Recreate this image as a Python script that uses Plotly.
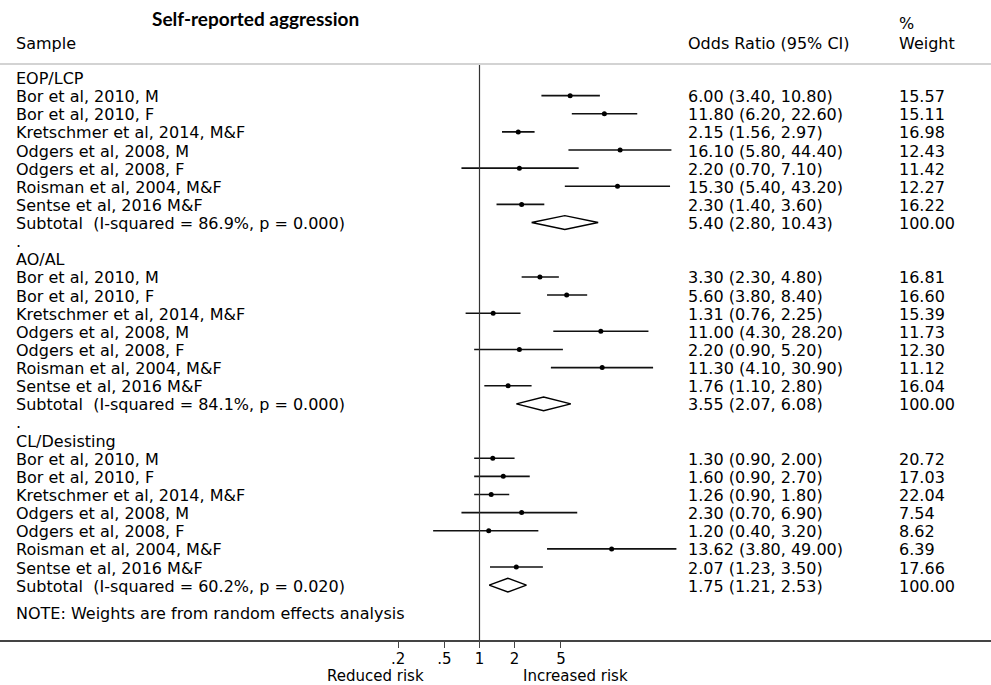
import math
import plotly.graph_objects as go

# ---- data -------------------------------------------------------------
title = "Self-reported aggression"
groups = ["EOP/LCP", "AO/AL", "CL/Desisting"]
studies = [
    "Bor et al, 2010, M",
    "Bor et al, 2010, F",
    "Kretschmer et al, 2014, M&F",
    "Odgers et al, 2008, M",
    "Odgers et al, 2008, F",
    "Roisman et al, 2004, M&F",
    "Sentse et al, 2016 M&F",
]

eop_or = [6.00, 11.80, 2.15, 16.10, 2.20, 15.30, 2.30]
eop_lo = [3.40, 6.20, 1.56, 5.80, 0.70, 5.40, 1.40]
eop_hi = [10.80, 22.60, 2.97, 44.40, 7.10, 43.20, 3.60]
eop_w = [15.57, 15.11, 16.98, 12.43, 11.42, 12.27, 16.22]

ao_or = [3.30, 5.60, 1.31, 11.00, 2.20, 11.30, 1.76]
ao_lo = [2.30, 3.80, 0.76, 4.30, 0.90, 4.10, 1.10]
ao_hi = [4.80, 8.40, 2.25, 28.20, 5.20, 30.90, 2.80]
ao_w = [16.81, 16.60, 15.39, 11.73, 12.30, 11.12, 16.04]

cl_or = [1.30, 1.60, 1.26, 2.30, 1.20, 13.62, 2.07]
cl_lo = [0.90, 0.90, 0.90, 0.70, 0.40, 3.80, 1.23]
cl_hi = [2.00, 2.70, 1.80, 6.90, 3.20, 49.00, 3.50]
cl_w = [20.72, 17.03, 22.04, 7.54, 8.62, 6.39, 17.66]

# pooled estimates: OR, lower, upper, I-squared (%), p
sub_or = [5.40, 3.55, 1.75]
sub_lo = [2.80, 2.07, 1.21]
sub_hi = [10.43, 6.08, 2.53]
sub_i2 = [86.9, 84.1, 60.2]
sub_p = [0.000, 0.000, 0.020]

tick_vals = [0.2, 0.5, 1, 2, 5]
tick_text = [".2", ".5", "1", "2", "5"]
note = "NOTE: Weights are from random effects analysis"

group_or = [eop_or, ao_or, cl_or]
group_lo = [eop_lo, ao_lo, cl_lo]
group_hi = [eop_hi, ao_hi, cl_hi]
group_w = [eop_w, ao_w, cl_w]

# ---- layout constants -------------------------------------------------
W, H = 991, 685
FONT = "DejaVu Sans"
FS = 16
FS_AXIS = 15
X_LABEL = 15 / W
X_OR = 687 / W
X_WT = 898 / W
ROW0_PX, ROW_PX = 77.5, 18.13
PLOT_BOTTOM_PX = 640
ONE_PX, DECADE_PX = 479.5, 116.5
DIAMOND_H = 0.38  # half-height of pooled diamonds, in rows

def paper_y(px):
    # plot area spans pixel rows 0..PLOT_BOTTOM_PX
    return 1 - px / PLOT_BOTTOM_PX

fig = go.Figure()
annotations = []

def text(x, y, s, yref="y", xanchor="left", size=FS, color="black", family=FONT, bold=False):
    if bold:
        s = "<b>" + s + "</b>"
    annotations.append(dict(
        x=x, y=y, xref="paper", yref=yref, text=s, showarrow=False,
        xanchor=xanchor, yanchor="middle", yshift=-1, borderpad=0,
        font=dict(family=family, size=size, color=color),
    ))

row = 0
for g, name in enumerate(groups):
    text(X_LABEL, row, name)
    row += 1
    ci_x, ci_y, pt_x, pt_y = [], [], [], []
    for s, label in enumerate(studies):
        orv, lo, hi, w = group_or[g][s], group_lo[g][s], group_hi[g][s], group_w[g][s]
        ci_x += [lo, hi, None]
        ci_y += [row, row, None]
        pt_x.append(orv)
        pt_y.append(row)
        text(X_LABEL, row, label)
        text(X_OR, row, f"{orv:.2f} ({lo:.2f}, {hi:.2f})")
        text(X_WT, row, f"{w:.2f}")
        row += 1
    fig.add_trace(go.Scatter(x=ci_x, y=ci_y, mode="lines",
                             line=dict(color="#111111", width=1.6),
                             hoverinfo="skip", showlegend=False))
    fig.add_trace(go.Scatter(x=pt_x, y=pt_y, mode="markers",
                             marker=dict(color="black", size=5),
                             showlegend=False))
    # pooled diamond
    so, sl, sh = sub_or[g], sub_lo[g], sub_hi[g]
    fig.add_trace(go.Scatter(
        x=[sl, so, sh, so, sl],
        y=[row, row - DIAMOND_H, row, row + DIAMOND_H, row],
        mode="lines", line=dict(color="black", width=1.4),
        hoverinfo="skip", showlegend=False))
    text(X_LABEL, row, f"Subtotal\u00a0 (I-squared = {sub_i2[g]:.1f}%, p = {sub_p[g]:.3f})")
    text(X_OR, row, f"{so:.2f} ({sl:.2f}, {sh:.2f})")
    text(X_WT, row, f"{100:.2f}")
    row += 1
    if g < len(groups) - 1:
        text(X_LABEL, row, ".")
        row += 1

text(X_LABEL, row + 0.52, note)

# headers and titles (paper coordinates)
text(255 / W, paper_y(18), title, yref="paper", xanchor="center", size=19,
     family="Lato", bold=True)
text(X_LABEL, paper_y(43), "Sample", yref="paper")
text(X_OR, paper_y(43), "Odds Ratio (95% CI)", yref="paper")
text(X_WT, paper_y(22), "%", yref="paper")
text(X_WT, paper_y(43), "Weight", yref="paper")
text(375 / W, paper_y(675), "Reduced risk", yref="paper", xanchor="center", size=FS_AXIS)
text(575 / W, paper_y(675), "Increased risk", yref="paper", xanchor="center", size=FS_AXIS)

shapes = [
    # rule under the header
    dict(type="line", xref="paper", yref="paper", x0=0, x1=1,
         y0=paper_y(64), y1=paper_y(64), line=dict(color="#c4c4c4", width=1.5)),
    # line of no effect
    dict(type="line", xref="x", yref="paper", x0=1, x1=1,
         y0=paper_y(65), y1=0, line=dict(color="#333333", width=1.2)),
]

x_left = -ONE_PX / DECADE_PX
x_right = (W - ONE_PX) / DECADE_PX
y_top = (0 - ROW0_PX) / ROW_PX
y_bottom = (PLOT_BOTTOM_PX - ROW0_PX) / ROW_PX

fig.update_layout(
    width=W, height=H,
    margin=dict(l=0, r=0, t=0, b=H - PLOT_BOTTOM_PX, pad=0),
    plot_bgcolor="white", paper_bgcolor="white",
    showlegend=False,
    annotations=annotations,
    shapes=shapes,
    xaxis=dict(type="log", range=[x_left, x_right], showgrid=False, zeroline=False,
               showline=True, linecolor="#444444", linewidth=1.5,
               ticks="outside", ticklen=6, tickwidth=1.2, tickcolor="#444444",
               ticklabelstandoff=-2,
               tickvals=tick_vals, ticktext=tick_text,
               tickfont=dict(family=FONT, size=FS_AXIS, color="black")),
    yaxis=dict(range=[y_bottom, y_top], visible=False, showgrid=False, zeroline=False),
)

fig.write_html("out.html")
